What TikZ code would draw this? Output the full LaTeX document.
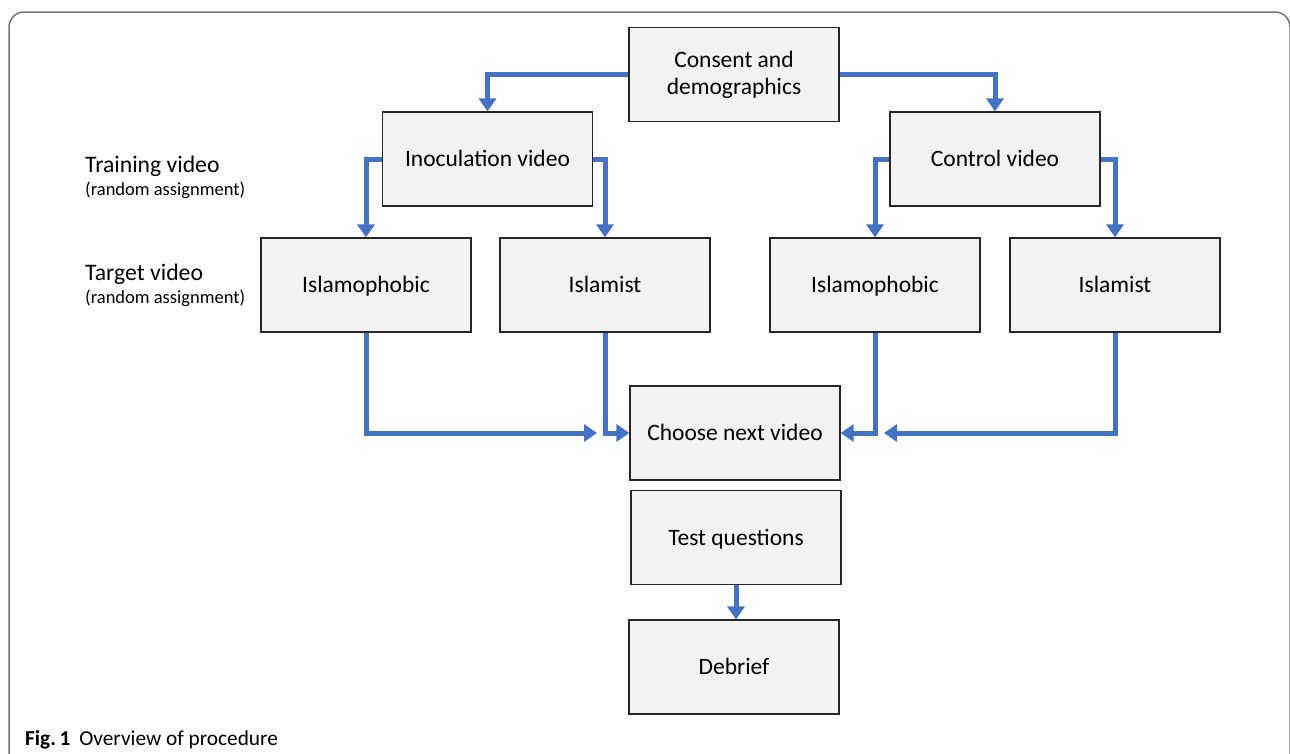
\documentclass[tikz,border=0pt]{standalone}
\usepackage{fontspec}
\setmainfont{Carlito}
\usetikzlibrary{arrows.meta}
\definecolor{flowblue}{RGB}{68,114,196}
\definecolor{boxgray}{RGB}{242,242,242}
\tikzset{
    stagebox/.style={draw=black!85,fill=boxgray,line width=1.2pt,minimum width=210pt,minimum height=94pt,
        inner sep=0pt,text height=20pt,text depth=5pt,font=\fontsize{23.5}{27}\selectfont},
    flow/.style={draw=flowblue,line width=5pt,-{Triangle[width=17pt,length=13pt]}},
    sidelabel/.style={anchor=base west,inner sep=0pt,font=\fontsize{23.7}{28}\selectfont},
    sidenote/.style={anchor=base west,inner sep=0pt,font=\fontsize{18.5}{22}\selectfont}
}
\begin{document}
\begin{tikzpicture}[x=1pt,y=-1pt]
    \useasboundingbox (0,0) rectangle (1290,753);
    \clip (0,0) rectangle (1290,753);

    % frame of the figure
    \draw[black!55,line width=1.5pt,rounded corners=15pt] (9,12) rectangle (1290,800);

    % stages
    \node[stagebox,align=center,text height=,text depth=] (cons) at (734,74.5) {Consent and\\demographics};
    \node[stagebox] (inoc) at (487.5,159) {Inoculation video};
    \node[stagebox] (ctrl) at (995,159) {Control video};
    \node[stagebox] (phobL) at (366,285) {Islamophobic};
    \node[stagebox] (istL) at (605,285) {Islamist};
    \node[stagebox] (phobR) at (875,285) {Islamophobic};
    \node[stagebox] (istR) at (1115,285) {Islamist};
    \node[stagebox] (choose) at (735,433) {Choose next video};
    \node[stagebox] (test) at (736,537.5) {Test questions};
    \node[stagebox] (debrief) at (734,667) {Debrief};

    % row labels
    \node[sidelabel] (train) at (85,172) {Training video};
    \node[sidenote] (trainnote) at (85,195) {(random assignment)};
    \node[sidelabel] (target) at (85,280) {Target video};
    \node[sidenote] (targetnote) at (85,303) {(random assignment)};

    % free ends of the outer arrows
    \coordinate (inL) at (597,433);
    \coordinate (inR) at (884,433);

    % connectors
    \draw[flow] (cons.west) -| (inoc.north);
    \draw[flow] (cons.east) -| (ctrl.north);
    \draw[flow] (inoc.west) -| (phobL.north);
    \draw[flow] (inoc.east) -| (istL.north);
    \draw[flow] (ctrl.west) -| (phobR.north);
    \draw[flow] (ctrl.east) -| (istR.north);
    \draw[flow] (phobL.south) |- (inL);
    \draw[flow] (istL.south) |- (choose.west);
    \draw[flow] (phobR.south) |- (choose.east);
    \draw[flow] (istR.south) |- (inR);
    \draw[flow] (test.south) -- (test.south |- debrief.north);

    % caption
    \node[anchor=base west,inner sep=0pt,font=\fontsize{21.3}{25}\selectfont] (caption) at (25,745)
        {\textbf{Fig.\,1}\hspace{9pt}Overview of procedure};
\end{tikzpicture}
\end{document}
